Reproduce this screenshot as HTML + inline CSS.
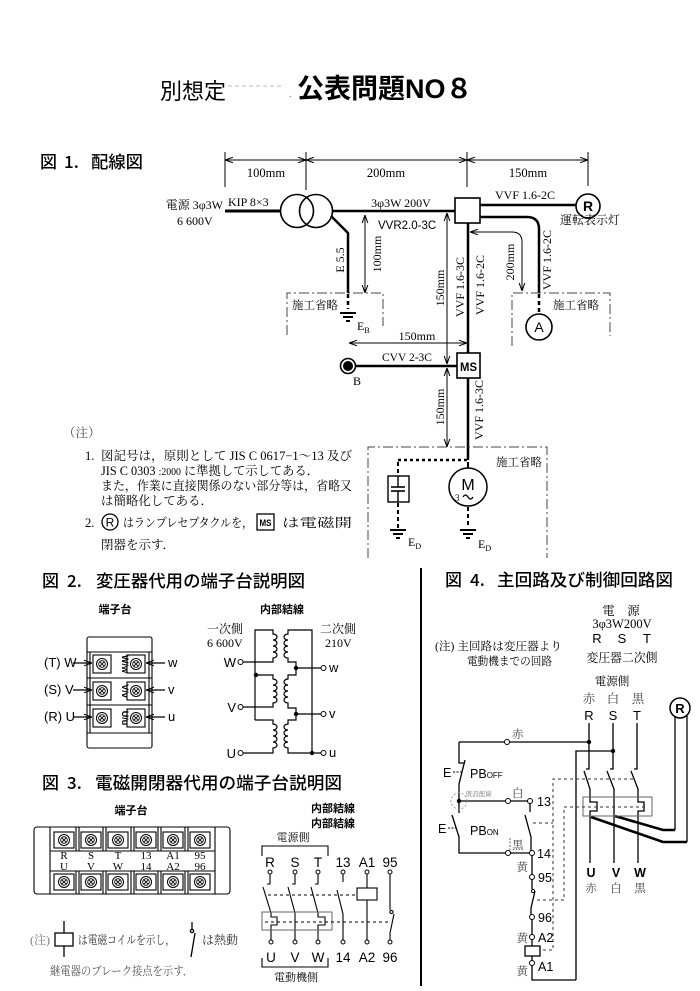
<!DOCTYPE html>
<html><head><meta charset="utf-8">
<style>
html,body{margin:0;padding:0;background:#fff;width:700px;height:991px;overflow:hidden}
svg{display:block}
.se{font-family:"Liberation Serif","Noto Serif CJK SC",serif}
.sa{font-family:"Liberation Sans","Noto Sans CJK JP",sans-serif}
.gt{font-family:"Noto Sans CJK JP","Liberation Sans",sans-serif}
</style></head><body>
<svg width="700" height="991" viewBox="0 0 700 991" xmlns="http://www.w3.org/2000/svg">
<defs>
<marker id="ar" viewBox="0 0 10 10" refX="10" refY="5" markerWidth="8" markerHeight="8" markerUnits="userSpaceOnUse" orient="auto-start-reverse"><path d="M0,1.5 L10,5 L0,8.5" fill="none" stroke="#000" stroke-width="1.3"/></marker>
<g id="scr"><circle r="5.5" fill="#fff" stroke="#000" stroke-width="1"/><circle r="3.3" fill="none" stroke="#000" stroke-width="0.9"/><path d="M-2.3,-2.3 L2.3,2.3 M-2.3,2.3 L2.3,-2.3" stroke="#000" stroke-width="0.9"/></g>
<g id="gnd" stroke="#000" stroke-width="2"><line x1="-8" y1="0" x2="8" y2="0"/><line x1="-5" y1="4" x2="5" y2="4"/><line x1="-2" y1="8" x2="2" y2="8"/></g>
</defs>
<rect width="700" height="991" fill="#fff"/>

<!-- Title -->
<text x="160" y="99" class="gt" font-size="22">別想定</text>
<line x1="228" y1="86" x2="283" y2="86" stroke="#bbb" stroke-dasharray="4 3"/>
<text x="289" y="97" class="sa" font-size="10" fill="#666">.</text>
<text x="297" y="98" class="sa" font-size="27" font-weight="bold">公表問題NO８</text>

<!-- ========== Fig 1 ========== -->
<g class="gt" font-size="17" font-weight="500">
<text x="40" y="168">図</text><text x="64" y="168">1.</text>
<text x="91" y="168" textLength="52" lengthAdjust="spacingAndGlyphs">配線図</text>
</g>

<!-- top dimensions -->
<g stroke="#000" stroke-width="1">
<line x1="225" y1="152" x2="225" y2="187"/>
<line x1="306" y1="152" x2="306" y2="190"/>
<line x1="467" y1="152" x2="467" y2="187"/>
<line x1="588" y1="152" x2="588" y2="186"/>
<line x1="225" y1="160" x2="306" y2="160" marker-start="url(#ar)" marker-end="url(#ar)"/>
<line x1="306" y1="160" x2="467" y2="160" marker-start="url(#ar)" marker-end="url(#ar)"/>
<line x1="467" y1="160" x2="588" y2="160" marker-start="url(#ar)" marker-end="url(#ar)"/>
</g>
<g class="se" font-size="12.5" text-anchor="middle">
<text x="266" y="177">100mm</text>
<text x="386" y="177">200mm</text>
<text x="528" y="177">150mm</text>
</g>

<!-- main wiring -->
<g stroke="#000" fill="none">
<line x1="225" y1="211" x2="281" y2="211" stroke-width="3"/>
<circle cx="297" cy="211" r="16.5" stroke-width="1.6"/>
<circle cx="316" cy="211" r="16.5" stroke-width="1.6"/>
<line x1="332" y1="211" x2="455" y2="211" stroke-width="2.5"/>
<path d="M331,216 L348,233 V293" stroke-width="2.5"/>
<line x1="348" y1="294" x2="348" y2="309" stroke-width="2.5" stroke-dasharray="4 3"/>
<line x1="480" y1="205" x2="576" y2="205" stroke-width="2.5"/>
<circle cx="588" cy="206" r="12" stroke-width="1.6"/>
<path d="M480,217 H527 Q539,217 539,229 V293" stroke-width="2.5"/>
<line x1="539" y1="294" x2="539" y2="313" stroke-width="2.5" stroke-dasharray="4 3"/>
<circle cx="539" cy="327" r="13" stroke-width="1.6"/>
<line x1="468" y1="223" x2="468" y2="353" stroke-width="2.5"/>
<line x1="468" y1="378" x2="468" y2="460" stroke-width="2.5"/>
<line x1="355" y1="366" x2="457" y2="366" stroke-width="2.5"/>
<circle cx="348" cy="366" r="7.5" stroke-width="1.6"/>
</g>
<circle cx="348" cy="366" r="5" fill="#000"/>
<rect x="455" y="198" width="25" height="25" fill="#fff" stroke="#000" stroke-width="1.6"/>
<rect x="457" y="353" width="23" height="25" fill="#fff" stroke="#000" stroke-width="1.6"/>
<text x="468.5" y="371" class="sa" font-size="12" font-weight="bold" text-anchor="middle" textLength="17" lengthAdjust="spacingAndGlyphs">MS</text>
<text x="588" y="211" class="sa" font-size="14" font-weight="bold" text-anchor="middle">R</text>
<text x="539" y="332" class="sa" font-size="14" text-anchor="middle">A</text>
<use href="#gnd" x="348" y="313"/>

<!-- dimension arrows fig1 -->
<g stroke="#000" stroke-width="1" fill="none">
<line x1="365" y1="215" x2="365" y2="293" marker-start="url(#ar)" marker-end="url(#ar)"/>
<path d="M470,232 H512 Q522,232 522,242 V291" marker-start="url(#ar)" marker-end="url(#ar)"/>
<line x1="447" y1="213" x2="447" y2="364" marker-start="url(#ar)" marker-end="url(#ar)"/>
<line x1="349" y1="343" x2="467" y2="343" marker-start="url(#ar)" marker-end="url(#ar)"/>
<line x1="447" y1="368" x2="447" y2="447" marker-start="url(#ar)" marker-end="url(#ar)"/>
</g>

<!-- construction omitted boxes -->
<g stroke="#444" stroke-width="1" fill="none" stroke-dasharray="10 3 2 3">
<path d="M287,335 V293 H383 V326"/>
<path d="M512,346 V293 H610 V336"/>
<path d="M368,558 V447 H547 V558"/>
</g>

<!-- fig1 labels -->
<g class="se" font-size="12">
<text x="223" y="209" text-anchor="end">電源 3φ3W</text>
<text x="177" y="225">6 600V</text>
<text x="228" y="206">KIP 8×3</text>
<text x="401" y="207" text-anchor="middle">3φ3W 200V</text>
<text x="525" y="199" text-anchor="middle">VVF 1.6-2C</text>
<text x="560" y="224">運転表示灯</text>
<text x="292" y="309" font-size="11.5">施工省略</text>
<text x="553" y="309" font-size="11.5">施工省略</text>
<text x="542" y="466" text-anchor="end" font-size="11.5">施工省略</text>
<text x="357" y="330">E<tspan font-size="8" dy="3">B</tspan></text>
<text x="417" y="340" text-anchor="middle">150mm</text>
<text x="407" y="361" text-anchor="middle" font-size="11.5">CVV 2-3C</text>
<text x="353" y="385">B</text>
<text transform="translate(344,260) rotate(-90)" text-anchor="middle">E 5.5</text>
<text transform="translate(381,254) rotate(-90)" text-anchor="middle">100mm</text>
<text transform="translate(444,288) rotate(-90)" text-anchor="middle">150mm</text>
<text transform="translate(464,287) rotate(-90)" text-anchor="middle">VVF 1.6-3C</text>
<text transform="translate(484,285) rotate(-90)" text-anchor="middle">VVF 1.6-2C</text>
<text transform="translate(514,262) rotate(-90)" text-anchor="middle">200mm</text>
<text transform="translate(551,260) rotate(-90)" text-anchor="middle">VVF 1.6-2C</text>
<text transform="translate(444,407) rotate(-90)" text-anchor="middle">150mm</text>
<text transform="translate(483,410) rotate(-90)" text-anchor="middle">VVF 1.6-3C</text>
</g>
<text x="378" y="229" class="sa" font-size="11.5">VVR2.0-3C</text>

<!-- lower box contents -->
<g stroke="#000" fill="none">
<line x1="398" y1="460" x2="468" y2="460" stroke-width="2.5" stroke-dasharray="3 3"/>
<line x1="398" y1="462" x2="398" y2="476" stroke-width="2" stroke-dasharray="4 3"/>
<rect x="388" y="476" width="21" height="26" stroke-width="1.4"/>
<line x1="398" y1="476" x2="398" y2="487" stroke-width="1.4"/>
<line x1="391" y1="487" x2="405" y2="487" stroke-width="1.6"/>
<line x1="391" y1="491" x2="405" y2="491" stroke-width="1.6"/>
<line x1="398" y1="491" x2="398" y2="502" stroke-width="1.4"/>
<line x1="398" y1="503" x2="398" y2="528" stroke-width="2" stroke-dasharray="4 3"/>
<line x1="468" y1="462" x2="468" y2="468" stroke-width="2"/>
<circle cx="468" cy="487" r="19" stroke-width="1.5"/>
<line x1="468" y1="507" x2="468" y2="528" stroke-width="2" stroke-dasharray="4 3"/>
<path d="M463,497 q2.5,-4 5,0 t5,0" stroke-width="1.2"/>
</g>
<text x="468" y="490" class="sa" font-size="16" text-anchor="middle">M</text>
<text x="455" y="501" class="se" font-size="9">3</text>
<use href="#gnd" x="398" y="530"/>
<use href="#gnd" x="468" y="530"/>
<text x="408" y="546" class="se" font-size="12">E<tspan font-size="8" dy="3">D</tspan></text>
<text x="478" y="548" class="se" font-size="12">E<tspan font-size="8" dy="3">D</tspan></text>

<!-- notes fig1 -->
<g class="se" font-size="12.5">
<text x="63" y="437" fill="#444">（注）</text>
<text x="85" y="460">1.</text>
<text x="101" y="460" textLength="251" lengthAdjust="spacingAndGlyphs">図記号は，原則として JIS C 0617−1〜13 及び</text>
<text x="101" y="475" textLength="218" lengthAdjust="spacingAndGlyphs">JIS C 0303 <tspan font-size="10">:2000</tspan> に準拠して示してある．</text>
<text x="101" y="490" textLength="251" lengthAdjust="spacingAndGlyphs">また，作業に直接関係のない部分等は，省略又</text>
<text x="101" y="505" textLength="112" lengthAdjust="spacingAndGlyphs">は簡略化してある．</text>
<text x="85" y="527">2.</text>
<text x="123" y="527" textLength="130" lengthAdjust="spacingAndGlyphs">はランプレセプタクルを，</text>
<text x="282" y="527" textLength="70" lengthAdjust="spacingAndGlyphs">は電磁開</text>
<text x="101" y="549">閉器を示す．</text>
</g>
<circle cx="110" cy="522" r="8" fill="none" stroke="#000" stroke-width="1.3"/>
<text x="110" y="526.5" class="sa" font-size="12" text-anchor="middle">R</text>
<rect x="257" y="514" width="17" height="16" fill="none" stroke="#000" stroke-width="1.3"/>
<text x="265.5" y="526" class="sa" font-size="9" font-weight="bold" text-anchor="middle" textLength="12" lengthAdjust="spacingAndGlyphs">MS</text>

<!-- ========== Fig 2 ========== -->
<g class="gt" font-size="17" font-weight="500">
<text x="42" y="587">図</text><text x="67" y="587">2.</text>
<text x="96" y="587" textLength="209" lengthAdjust="spacingAndGlyphs">変圧器代用の端子台説明図</text>
</g>
<text x="115" y="613" class="gt" font-size="11" font-weight="bold" text-anchor="middle">端子台</text>
<text x="282" y="613" class="gt" font-size="11" font-weight="bold" text-anchor="middle">内部結線</text>

<!-- terminal block -->
<g stroke="#000" fill="none" stroke-width="1.1">
<rect x="87" y="637" width="65" height="111" rx="2"/>
<line x1="87" y1="652" x2="152" y2="652"/>
<line x1="87" y1="733" x2="152" y2="733"/>
<line x1="87" y1="678" x2="152" y2="678"/>
<line x1="87" y1="705" x2="152" y2="705"/>
<line x1="90" y1="652" x2="90" y2="733"/>
<line x1="149" y1="652" x2="149" y2="733"/>
<rect x="93" y="655" width="18" height="18"/>
<rect x="93" y="682" width="18" height="18"/>
<rect x="93" y="709" width="18" height="18"/>
<rect x="127" y="655" width="18" height="18"/>
<rect x="127" y="682" width="18" height="18"/>
<rect x="127" y="709" width="18" height="18"/>
</g>
<use href="#scr" x="102" y="664"/><use href="#scr" x="102" y="691"/><use href="#scr" x="102" y="718"/>
<use href="#scr" x="136" y="664"/><use href="#scr" x="136" y="691"/><use href="#scr" x="136" y="718"/>
<g class="sa" font-size="9" font-weight="bold" text-anchor="middle">
<text transform="translate(122,664) rotate(90)">W/w</text>
<text transform="translate(122,691) rotate(90)">V/v</text>
<text transform="translate(122,718) rotate(90)">U/u</text>
</g>
<g stroke="#000" stroke-width="1.2">
<line x1="73" y1="663" x2="92" y2="663" marker-end="url(#ar)"/>
<line x1="73" y1="690" x2="92" y2="690" marker-end="url(#ar)"/>
<line x1="73" y1="717" x2="92" y2="717" marker-end="url(#ar)"/>
<line x1="165" y1="663" x2="146" y2="663" marker-end="url(#ar)"/>
<line x1="165" y1="690" x2="146" y2="690" marker-end="url(#ar)"/>
<line x1="165" y1="717" x2="146" y2="717" marker-end="url(#ar)"/>
</g>
<g class="sa" font-size="13">
<text x="44" y="667">(T) W</text>
<text x="44" y="694">(S) V</text>
<text x="44" y="721">(R) U</text>
<text x="168" y="667">w</text>
<text x="168" y="694">v</text>
<text x="168" y="721">u</text>
</g>

<!-- transformer internal -->
<g class="se" font-size="12">
<text x="207" y="633">一次側</text>
<text x="207" y="647">6 600V</text>
<text x="320" y="633">二次側</text>
<text x="325" y="647">210V</text>
</g>
<g stroke="#000" fill="none" stroke-width="1.2">
<path d="M255,720 V630 H273 V634 a4,3 0 0 1 0,6 a4,3 0 0 1 0,6 a4,3 0 0 1 0,6 a4,3 0 0 1 0,6 V662 H243"/>
<path d="M256,675 H273 V679 a4,3 0 0 1 0,6 a4,3 0 0 1 0,6 a4,3 0 0 1 0,6 a4,3 0 0 1 0,6 V707 H243"/>
<path d="M255,720 H273 V724 a4,3 0 0 1 0,6 a4,3 0 0 1 0,6 a4,3 0 0 1 0,6 a4,3 0 0 1 0,6 V753 H243"/>
<path d="M312,753 V630 H288 V634 a4,3 0 0 0 0,6 a4,3 0 0 0 0,6 a4,3 0 0 0 0,6 a4,3 0 0 0 0,6 V662 H296 V675 H288 V679 a4,3 0 0 0 0,6 a4,3 0 0 0 0,6 a4,3 0 0 0 0,6 a4,3 0 0 0 0,6 V708 H296 V720 H288 V724 a4,3 0 0 0 0,6 a4,3 0 0 0 0,6 a4,3 0 0 0 0,6 a4,3 0 0 0 0,6 V753 H321"/>
<path d="M296,668 H321 M296,714 H321"/>
</g>
<g fill="#000"><circle cx="256" cy="675" r="2.2"/><circle cx="296" cy="668" r="2.2"/><circle cx="296" cy="714" r="2.2"/><circle cx="312" cy="753" r="2.2"/></g>
<g fill="#fff" stroke="#000" stroke-width="1">
<circle cx="240.5" cy="662" r="2.5"/><circle cx="240.5" cy="707" r="2.5"/><circle cx="240.5" cy="753" r="2.5"/>
<circle cx="323.5" cy="668" r="2.5"/><circle cx="323.5" cy="714" r="2.5"/><circle cx="323.5" cy="753" r="2.5"/>
</g>
<g class="sa" font-size="13">
<text x="236" y="667" text-anchor="end">W</text>
<text x="236" y="712" text-anchor="end">V</text>
<text x="236" y="758" text-anchor="end">U</text>
<text x="329" y="672">w</text>
<text x="329" y="718">v</text>
<text x="329" y="757">u</text>
</g>

<!-- ========== Fig 3 ========== -->
<g class="gt" font-size="17" font-weight="500">
<text x="42" y="789">図</text><text x="67" y="789">3.</text>
<text x="95" y="789" textLength="247" lengthAdjust="spacingAndGlyphs">電磁開閉器代用の端子台説明図</text>
</g>
<text x="131" y="814" class="gt" font-size="11" font-weight="bold" text-anchor="middle">端子台</text>
<text x="333" y="812" class="gt" font-size="11" font-weight="bold" text-anchor="middle">内部結線</text>
<text x="333" y="827" class="gt" font-size="11" font-weight="bold" text-anchor="middle">内部結線</text>

<g stroke="#000" fill="none" stroke-width="1.1">
<rect x="34" y="827" width="196" height="67" rx="3"/>
<line x1="50" y1="827" x2="50" y2="894"/>
<line x1="215" y1="827" x2="215" y2="894"/>
<line x1="50" y1="851" x2="215" y2="851"/>
<line x1="50" y1="871" x2="215" y2="871"/>
<path d="M76,827 V851 M79,827 V851 M103,827 V851 M106,827 V851 M131,827 V851 M134,827 V851 M158,827 V851 M161,827 V851 M185,827 V851 M188,827 V851"/>
<path d="M76,871 V894 M79,871 V894 M103,871 V894 M106,871 V894 M131,871 V894 M134,871 V894 M158,871 V894 M161,871 V894 M185,871 V894 M188,871 V894"/>
<rect x="54" y="832" width="20" height="16"/><rect x="81" y="832" width="20" height="16"/><rect x="108" y="832" width="20" height="16"/>
<rect x="136" y="832" width="20" height="16"/><rect x="163" y="832" width="20" height="16"/><rect x="190" y="832" width="20" height="16"/>
<rect x="54" y="874" width="20" height="16"/><rect x="81" y="874" width="20" height="16"/><rect x="108" y="874" width="20" height="16"/>
<rect x="136" y="874" width="20" height="16"/><rect x="163" y="874" width="20" height="16"/><rect x="190" y="874" width="20" height="16"/>
</g>
<use href="#scr" x="64" y="840"/><use href="#scr" x="91" y="840"/><use href="#scr" x="118" y="840"/>
<use href="#scr" x="146" y="840"/><use href="#scr" x="173" y="840"/><use href="#scr" x="200" y="840"/>
<use href="#scr" x="64" y="882"/><use href="#scr" x="91" y="882"/><use href="#scr" x="118" y="882"/>
<use href="#scr" x="146" y="882"/><use href="#scr" x="173" y="882"/><use href="#scr" x="200" y="882"/>
<g class="se" font-size="11" text-anchor="middle">
<text x="64" y="859">R</text><text x="91" y="859">S</text><text x="118" y="859">T</text><text x="146" y="859">13</text><text x="173" y="859">A1</text><text x="200" y="859">95</text>
<text x="64" y="870">U</text><text x="91" y="870">V</text><text x="118" y="870">W</text><text x="146" y="870">14</text><text x="173" y="870">A2</text><text x="200" y="870">96</text>
</g>

<!-- fig3 note -->
<g stroke="#000" fill="none" stroke-width="1.3">
<line x1="64" y1="921" x2="64" y2="957"/>
<rect x="55" y="933" width="18" height="13" fill="#fff"/>
<line x1="192" y1="922" x2="192" y2="929"/>
<circle cx="192" cy="931" r="1.6"/>
<line x1="195" y1="933" x2="191" y2="957"/>
</g>
<g class="se" font-size="12">
<text x="30" y="944" fill="#777">(注)</text>
<text x="78" y="944" fill="#333" textLength="97" lengthAdjust="spacingAndGlyphs">は電磁コイルを示し，</text>
<text x="202" y="944" fill="#333">は熱動</text>
<text x="50" y="975" fill="#555" textLength="143" lengthAdjust="spacingAndGlyphs">継電器のブレーク接点を示す．</text>
</g>

<!-- fig3 internal -->
<text x="293" y="841" class="se" font-size="11" text-anchor="middle">電源側</text>
<g stroke="#000" fill="none" stroke-width="1.1">
<path d="M262,856 V846 H328 V856"/>
<path d="M262,958 V967 H328 V958"/>
<path d="M270,874 V884 H267"/>
<path d="M263,887 L271,913 V917 H277 V925 H271 V940"/>
<path d="M295,874 V884 H292"/>
<path d="M288,887 L295,913 V940"/>
<path d="M318,874 V884 H315"/>
<path d="M311,887 L318,913 V917 H325 V925 H318 V940"/>
<path d="M343,874 V882"/>
<path d="M337,890 L343,914 V940"/>
<path d="M367,874 V888 M367,900 V940"/>
<rect x="357" y="888" width="20" height="12"/>
<path d="M390,874 V910"/>
<circle cx="391.5" cy="912" r="1.6"/>
<path d="M394,914 L390,933 V940"/>
</g>
<rect x="262" y="912" width="70" height="18" fill="none" stroke="#666" stroke-width="1"/>
<g stroke="#000" stroke-width="1" stroke-dasharray="3 3">
<line x1="268" y1="895" x2="357" y2="895"/>
<line x1="265" y1="922" x2="389" y2="922"/>
</g>
<g fill="#fff" stroke="#000" stroke-width="1">
<circle cx="270" cy="872" r="2"/><circle cx="295" cy="872" r="2"/><circle cx="318" cy="872" r="2"/><circle cx="343" cy="872" r="2"/><circle cx="367" cy="872" r="2"/><circle cx="390" cy="872" r="2"/>
<circle cx="271" cy="942" r="2"/><circle cx="295" cy="942" r="2"/><circle cx="318" cy="942" r="2"/><circle cx="343" cy="942" r="2"/><circle cx="367" cy="942" r="2"/><circle cx="390" cy="942" r="2"/>
</g>
<g class="sa" font-size="13.5" text-anchor="middle">
<text x="270" y="867">R</text><text x="295" y="867">S</text><text x="318" y="867">T</text><text x="343" y="867">13</text><text x="367" y="867">A1</text><text x="390" y="867">95</text>
<text x="271" y="962">U</text><text x="295" y="962">V</text><text x="318" y="962">W</text><text x="343" y="962">14</text><text x="367" y="962">A2</text><text x="390" y="962">96</text>
</g>
<text x="296" y="981" class="se" font-size="11" text-anchor="middle">電動機側</text>

<!-- ========== Fig 4 ========== -->
<line x1="421" y1="568" x2="421" y2="986" stroke="#000" stroke-width="2"/>
<g class="gt" font-size="17" font-weight="500">
<text x="445" y="586">図</text><text x="470" y="586">4.</text>
<text x="497" y="586" textLength="176" lengthAdjust="spacingAndGlyphs">主回路及び制御回路図</text>
</g>
<g class="se" font-size="12.5" text-anchor="middle">
<text x="621" y="615">電　源</text>
<text x="622" y="628">3φ3W200V</text>
<text x="622" y="662" textLength="71" lengthAdjust="spacingAndGlyphs">変圧器二次側</text>
<text x="612" y="685" font-size="11.5">電源側</text>
<text x="589" y="703" fill="#444">赤</text>
<text x="613" y="703" fill="#444">白</text>
<text x="638" y="703" fill="#444">黒</text>
</g>
<g class="sa" font-size="13" text-anchor="middle">
<text x="597" y="643">R</text><text x="622" y="643">S</text><text x="647" y="643">T</text>
<text x="589" y="720">R</text><text x="613" y="720">S</text><text x="637" y="720">T</text>
</g>
<g class="se" font-size="11.5">
<text x="435" y="650" textLength="127" lengthAdjust="spacingAndGlyphs">(注) 主回路は変圧器より</text>
<text x="467" y="665" textLength="85" lengthAdjust="spacingAndGlyphs">電動機までの回路</text>
</g>
<circle cx="680" cy="708" r="10" fill="none" stroke="#000" stroke-width="1.5"/>
<text x="680" y="713" class="sa" font-size="13" font-weight="bold" text-anchor="middle">R</text>

<g stroke="#000" fill="none" stroke-width="1.3">
<!-- main contacts -->
<path d="M589,723 V769 H586"/>
<path d="M584,771 L590,789 V797 M590,816 V863"/>
<path d="M590,797 V802 H597 V811 H590 V816"/>
<path d="M613,723 V769 H610"/>
<path d="M607,771 L614,789 V863"/>
<path d="M637,723 V769 H634"/>
<path d="M631,771 L638,789 V802 H644 V811 H638 V863"/>
<!-- lamp -->
<path d="M675,716 V830 M687,715 V842"/>
<!-- control -->
<path d="M459,742 H589"/>
<path d="M576,980 V751 H613"/>
<path d="M459,742 V763 H465"/>
<path d="M465,760 L459,784 V813"/>
<path d="M452,815 L459,837 V853 H530"/>
<path d="M459,801 H528"/>
<path d="M530,803 V812"/>
<path d="M525,815 L531,837 V851"/>
<path d="M532,855 V875"/>
<path d="M532,879 V889"/>
<path d="M535,891 L531,908 V915"/>
<path d="M532,919 V935"/>
<path d="M532,939 V946"/>
<path d="M532,956 V961"/>
<path d="M532,965 V980 H576"/>
</g>
<g stroke="#000" stroke-width="1" stroke-dasharray="2 1.5">
<line x1="453" y1="772" x2="462" y2="772"/>
<line x1="448" y1="828" x2="456" y2="828"/>
</g>
<rect x="525" y="946" width="15" height="10" fill="#fff" stroke="#000" stroke-width="1.3"/>
<g stroke="#000" stroke-width="2.6" fill="none">
<path d="M591,817 L663,842 H687"/>
<path d="M615,816 L663,830 H675"/>
</g>
<rect x="583" y="797" width="69" height="19" fill="none" stroke="#666" stroke-width="1"/>
<g stroke="#333" stroke-width="1" stroke-dasharray="3 3" fill="none">
<path d="M633,779 H553 V950 H539"/>
<path d="M533,823 H553"/>
<path d="M645,807 H564 V900 H535"/>
</g>
<circle cx="459" cy="801" r="8" fill="none" stroke="#888" stroke-width="0.8" stroke-dasharray="2 2"/>
<g fill="#000">
<circle cx="589" cy="742" r="2.2"/><circle cx="613" cy="751" r="2.2"/><circle cx="459" cy="801" r="2.2"/>
</g>
<g fill="#fff" stroke="#000" stroke-width="1">
<circle cx="507" cy="742" r="2.5"/><circle cx="508" cy="801" r="2.5"/><circle cx="530" cy="801" r="2.5"/>
<circle cx="508" cy="853" r="2.5"/><circle cx="532" cy="853" r="2.5"/><circle cx="532" cy="877" r="2.5"/>
<circle cx="533" cy="891" r="1.6"/><circle cx="532" cy="917" r="2.5"/><circle cx="532" cy="937" r="2.5"/><circle cx="532" cy="963" r="2.5"/>
</g>
<line x1="510" y1="838" x2="510" y2="851" stroke="#666" stroke-width="1" stroke-dasharray="2 1.5"/>
<g class="se" font-size="11.5" fill="#444">
<text x="512" y="738">赤</text>
<text x="512" y="797">白</text>
<text x="512" y="849">黒</text>
<text x="528" y="871" text-anchor="end">黄</text>
<text x="528" y="942" text-anchor="end">黄</text>
<text x="528" y="975" text-anchor="end">黄</text>
<text x="591" y="892" text-anchor="middle">赤</text>
<text x="616" y="892" text-anchor="middle">白</text>
<text x="640" y="892" text-anchor="middle">黒</text>
</g>
<text x="466" y="796" class="se" font-size="6.5" fill="#777">既設配線</text>
<g class="sa" font-size="12.5">
<text x="537" y="806">13</text>
<text x="537" y="858">14</text>
<text x="538" y="882">95</text>
<text x="538" y="922">96</text>
<text x="538" y="942">A2</text>
<text x="538" y="971">A1</text>
<text x="443" y="777">E</text>
<text x="438" y="833">E</text>
<text x="470" y="778">PB<tspan font-size="8">OFF</tspan></text>
<text x="470" y="835">PB<tspan font-size="8">ON</tspan></text>
</g>
<g class="sa" font-size="12.5" font-weight="bold" text-anchor="middle">
<text x="591" y="877">U</text><text x="616" y="877">V</text><text x="640" y="877">W</text>
</g>
</svg>
</body></html>
